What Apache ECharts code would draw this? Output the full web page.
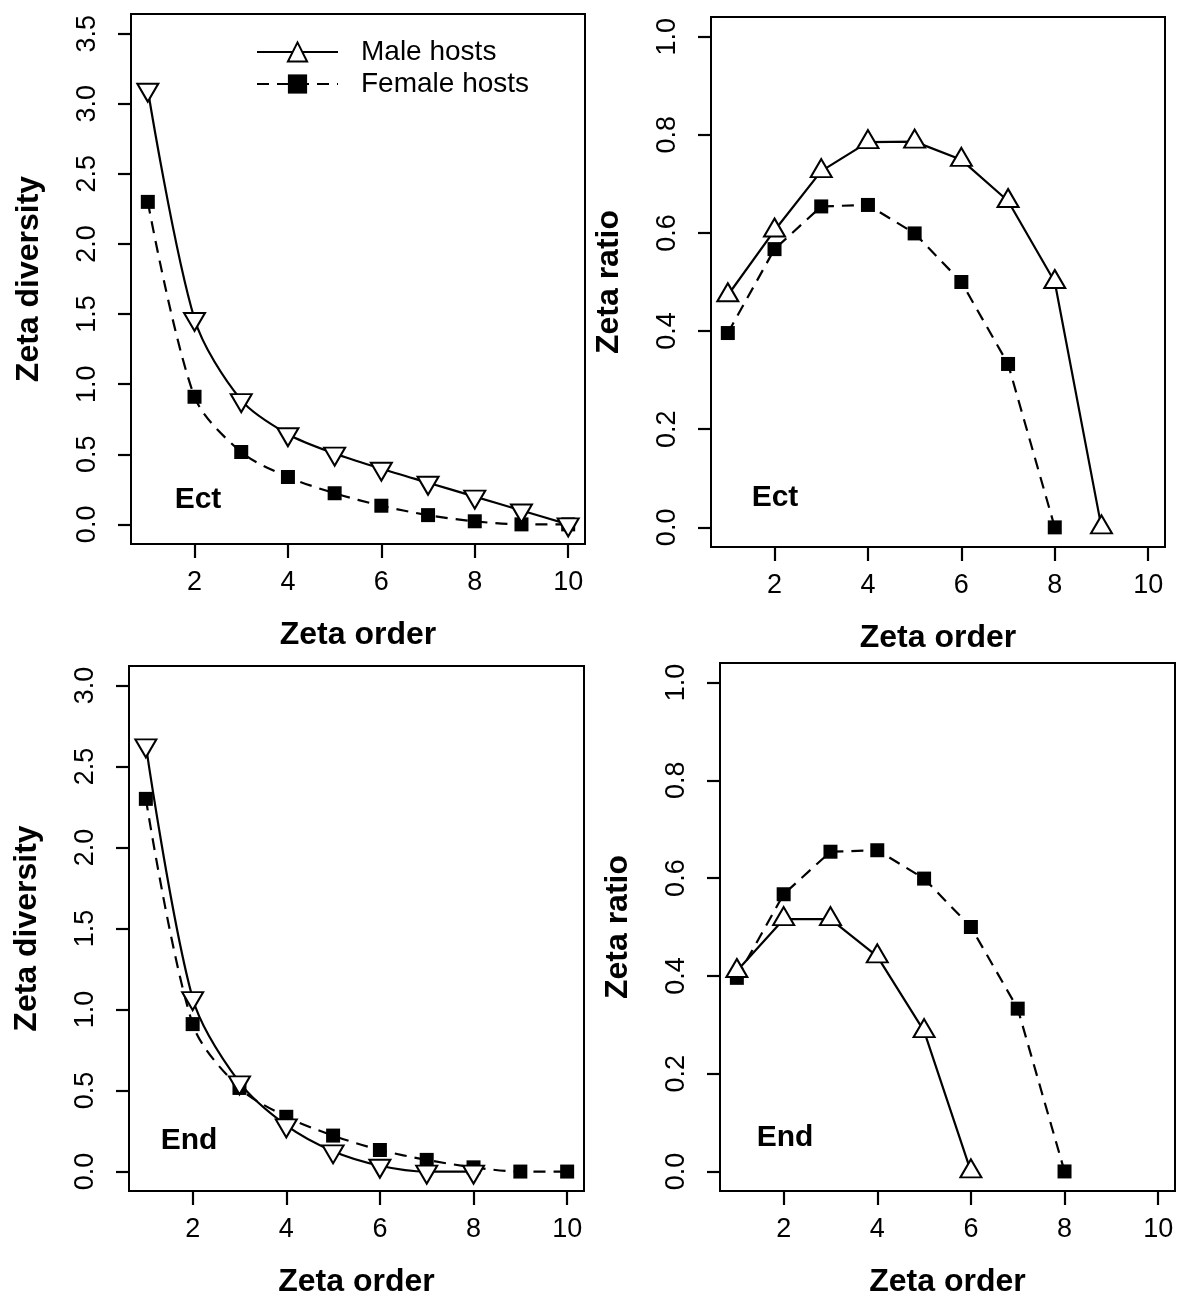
<!DOCTYPE html>
<html><head><meta charset="utf-8">
<script src="https://cdn.jsdelivr.net/npm/echarts@6/dist/echarts.min.js"></script>
<style>html,body{margin:0;padding:0;background:#fff;}#c{width:1177px;height:1299px;}</style>
</head><body><div id="c"></div>
<script>
// ---- data ----
const zetaOrder = [1, 2, 3, 4, 5, 6, 7, 8, 9, 10];
const ectMaleDiversity   = [3.10, 1.465, 0.886, 0.643, 0.505, 0.397, 0.297, 0.198, 0.099, 0.0];
const ectFemaleDiversity = [2.30, 0.91, 0.516, 0.338, 0.222, 0.133, 0.066, 0.022, 0.0, 0.0];
const ectMaleRatio   = [0.473, 0.605, 0.726, 0.785, 0.786, 0.749, 0.665, 0.50, 0.0];
const ectFemaleRatio = [0.396, 0.567, 0.654, 0.657, 0.599, 0.50, 0.333, 0.0];
const endMaleDiversity   = [2.63, 1.07, 0.55, 0.285, 0.125, 0.036, 0.0, 0.0];
const endFemaleDiversity = [2.30, 0.91, 0.516, 0.338, 0.222, 0.133, 0.072, 0.026, 0.0, 0.0];
const endMaleRatio   = [0.41, 0.516, 0.516, 0.44, 0.287, 0.0];
const endFemaleRatio = [0.396, 0.567, 0.654, 0.657, 0.599, 0.50, 0.333, 0.0];
const xTicks = [2, 4, 6, 8, 10];
const ectDivTicks = [0, 0.5, 1.0, 1.5, 2.0, 2.5, 3.0, 3.5];
const endDivTicks = [0, 0.5, 1.0, 1.5, 2.0, 2.5, 3.0];
const ratioTicks = [0, 0.2, 0.4, 0.6, 0.8, 1.0];
const seriesNames = ['Male hosts', 'Female hosts'];
const panelLabels = ['Ect', 'Ect', 'End', 'End'];

// ---- styling ----
const FONT = 'Liberation Sans, Arial, Helvetica, sans-serif';
const pairs = (vals) => vals.map((v, i) => [zetaOrder[i], v]);

const grids = [
  {left: 131, top: 14, width: 454, height: 530},
  {left: 711, top: 17, width: 454, height: 530},
  {left: 129, top: 666, width: 455, height: 531},
  {left: 720, top: 663, width: 455, height: 530}
].map(g => Object.assign(g, {show: true, borderColor: '#000', borderWidth: 2}));

function xAxis(gi) {
  return {
    type: 'value', gridIndex: gi, min: 0.64, max: 10.36,
    name: 'Zeta order', nameLocation: 'middle', nameGap: 75,
    nameTextStyle: {fontFamily: FONT, fontSize: 32, fontWeight: 'bold', color: '#000'},
    axisLine: {show: true, onZero: false, lineStyle: {color: '#000', width: 2}},
    axisTick: {show: true, length: 14, customValues: xTicks, lineStyle: {color: '#000', width: 2.2}},
    axisLabel: {show: true, customValues: xTicks, margin: 25, fontFamily: FONT, fontSize: 27, color: '#000'},
    splitLine: {show: false}
  };
}
function yAxis(gi, lo, hi, ticks, name) {
  const pad = (hi - lo) * 0.04;
  return {
    type: 'value', gridIndex: gi, min: lo - pad, max: hi + pad,
    name: name, nameLocation: 'middle', nameGap: 86, nameRotate: 90,
    nameTextStyle: {fontFamily: FONT, fontSize: 32, fontWeight: 'bold', color: '#000'},
    axisLine: {show: true, onZero: false, lineStyle: {color: '#000', width: 2}},
    axisTick: {show: true, length: 13, customValues: ticks, lineStyle: {color: '#000', width: 2.2}},
    axisLabel: {show: true, customValues: ticks, rotate: 90, margin: 30, fontFamily: FONT, fontSize: 27, color: '#000',
      formatter: v => Number(v).toFixed(1)},
    splitLine: {show: false}
  };
}

const maleStyle = (rot, off, sm) => ({
  name: seriesNames[0], type: 'line', smooth: sm,
  symbol: 'triangle', symbolSize: [21, 18], symbolRotate: rot, symbolOffset: [0, off],
  itemStyle: {color: '#fff', borderColor: '#000', borderWidth: 2},
  lineStyle: {color: '#000', width: 2.2, type: 'solid'},
  z: 3
});
const femaleStyle = (sm) => ({
  name: seriesNames[1], type: 'line', smooth: sm,
  symbol: 'rect', symbolSize: 14,
  itemStyle: {color: '#000', borderColor: '#000', borderWidth: 0},
  lineStyle: {color: '#000', width: 2.2, type: [12, 8]},
  z: 2
});

const series = [
  Object.assign(maleStyle(180, 3, 0.3), {xAxisIndex: 0, yAxisIndex: 0, data: pairs(ectMaleDiversity)}),
  Object.assign(femaleStyle(0.3), {xAxisIndex: 0, yAxisIndex: 0, data: pairs(ectFemaleDiversity)}),
  Object.assign(maleStyle(0, -3, false), {xAxisIndex: 1, yAxisIndex: 1, data: pairs(ectMaleRatio)}),
  Object.assign(femaleStyle(false), {xAxisIndex: 1, yAxisIndex: 1, data: pairs(ectFemaleRatio)}),
  Object.assign(maleStyle(180, 3, 0.3), {xAxisIndex: 2, yAxisIndex: 2, data: pairs(endMaleDiversity)}),
  Object.assign(femaleStyle(0.3), {xAxisIndex: 2, yAxisIndex: 2, data: pairs(endFemaleDiversity)}),
  Object.assign(maleStyle(0, -3, false), {xAxisIndex: 3, yAxisIndex: 3, data: pairs(endMaleRatio)}),
  Object.assign(femaleStyle(false), {xAxisIndex: 3, yAxisIndex: 3, data: pairs(endFemaleRatio)})
];

const labelPos = [[198, 500], [775, 498], [189, 1141], [785, 1138]];
const graphics = panelLabels.map((t, i) => ({
  type: 'text', x: labelPos[i][0], y: labelPos[i][1], z: 10,
  style: {text: t, font: 'bold 30px ' + FONT, fill: '#000', align: 'center', verticalAlign: 'middle'}
}));

const option = {
  animation: false,
  backgroundColor: '#fff',
  grid: grids,
  xAxis: [xAxis(0), xAxis(1), xAxis(2), xAxis(3)],
  yAxis: [
    yAxis(0, 0, 3.5, ectDivTicks, 'Zeta diversity'),
    yAxis(1, 0, 1.0, ratioTicks, 'Zeta ratio'),
    yAxis(2, 0, 3.0, endDivTicks, 'Zeta diversity'),
    yAxis(3, 0, 1.0, ratioTicks, 'Zeta ratio')
  ],
  legend: {
    data: seriesNames, orient: 'vertical', left: 256, top: 38, padding: 0,
    itemWidth: 81, itemHeight: 24, itemGap: 4, symbolRotate: 0,
    textStyle: {fontFamily: FONT, fontSize: 28, color: '#000', padding: [0, 0, 0, 18]},
    selectedMode: false
  },
  graphic: graphics,
  series: series
};
const chart = echarts.init(document.getElementById('c'), null, {renderer: 'canvas'});
chart.setOption(option);
</script></body></html>
